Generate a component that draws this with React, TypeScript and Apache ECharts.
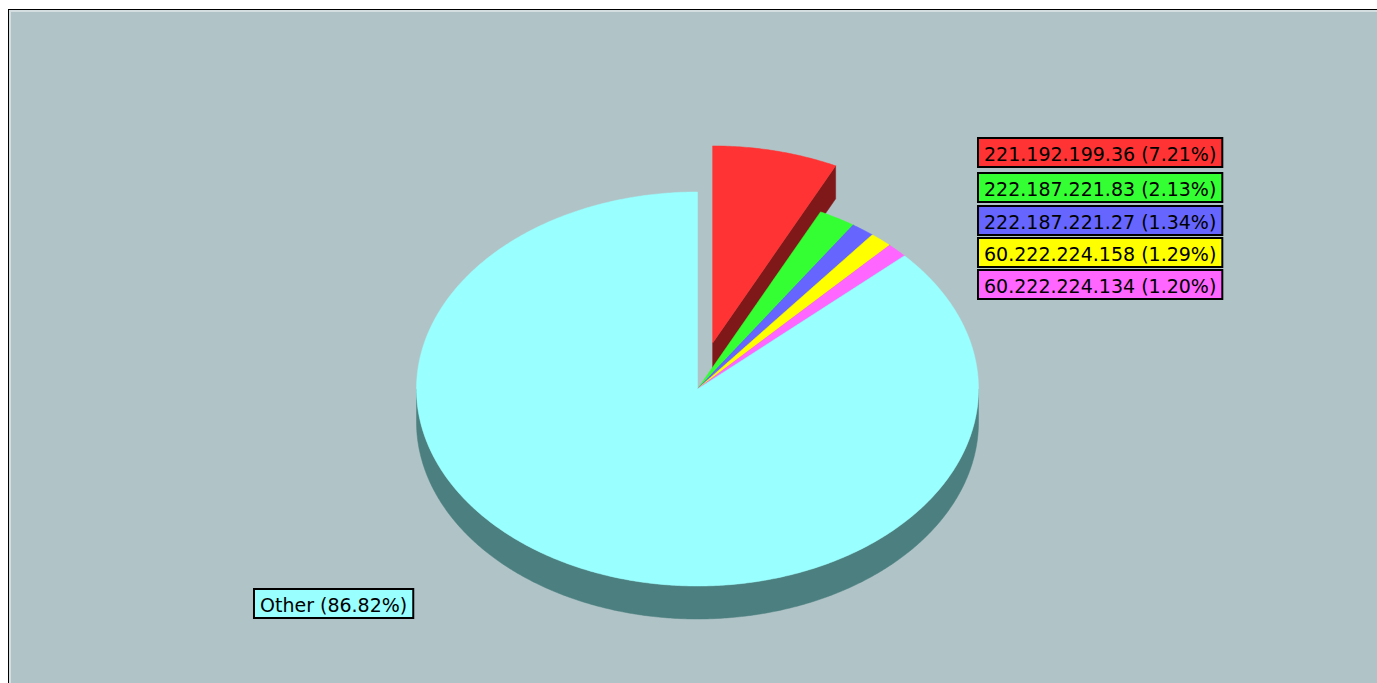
import React, { useEffect, useRef } from "react";
import * as echarts from "echarts";

// ---- data ----
const names = [
  "221.192.199.36",
  "222.187.221.83",
  "222.187.221.27",
  "60.222.224.158",
  "60.222.224.134",
  "Other",
];
const shares = [7.21, 2.13, 1.34, 1.29, 1.2, 86.82];
const colors = ["#FF3333", "#33FF33", "#6666FF", "#FFFF00", "#FF66FF", "#99FFFF"];
const sideColors = ["#7F1919", "#197F19", "#33337F", "#7F7F00", "#7F337F", "#4C7F7F"];
const explode = [0.24, 0, 0, 0, 0, 0];

// ---- layout (chart-local pixels) ----
const CX = 689.5;
const CY = 380;
const RX = 281;
const RY = 197;
const DEPTH = 33;
const labelPos: number[][] = [
  [969, 128],
  [969, 163],
  [969, 196],
  [969, 228],
  [969, 260],
  [245, 579],
];
const LABEL_H = 29;
const PAD = 6;
const FONT = '19px "DejaVu Sans"';

function measure(t: string): number {
  const c = document.createElement("canvas");
  const ctx = c.getContext("2d")!;
  ctx.font = FONT;
  return ctx.measureText(t).width;
}

function arc(a0: number, a1: number, ox: number, oy: number, dz: number): number[][] {
  const pts: number[][] = [];
  const n = Math.max(2, Math.ceil((a1 - a0) / 0.5));
  for (let k = 0; k <= n; k++) {
    const t = ((a0 + ((a1 - a0) * k) / n) * Math.PI) / 180;
    pts.push([CX + ox + RX * Math.sin(t), CY + oy - RY * Math.cos(t) + dz]);
  }
  return pts;
}

export default function App() {
  const ref = useRef<HTMLDivElement>(null);
  useEffect(() => {
    if (!ref.current) return;
    const chart = echarts.init(ref.current, undefined, { renderer: "svg" });
    const total = shares.reduce((s, v) => s + v, 0);
    const labels = names.map((n, i) => `${n} (${shares[i].toFixed(2)}%)`);
    const widths = labels.map((l) => measure(l));
    const maxRight = Math.max(...widths.slice(0, 5));

    const renderItem = (params: any, api: any) => {
      const i = params.dataIndex;
      let before = 0;
      for (let k = 0; k < i; k++) before += shares[k];
      const v = api.value(0);
      const a = (before / total) * 360;
      const b = ((before + v) / total) * 360;
      const mid = (((a + b) / 2) * Math.PI) / 180;
      const ox = explode[i] * RX * Math.sin(mid);
      const oy = -explode[i] * RY * Math.cos(mid);
      const c0 = [CX + ox, CY + oy];
      const c1 = [CX + ox, CY + oy + DEPTH];
      const children: any[] = [];
      const side = sideColors[i];
      // outer wall (front half)
      const lo = Math.max(a, 90);
      const hi = Math.min(b, 270);
      if (lo < hi) {
        const top = arc(lo, hi, ox, oy, 0);
        const bot = arc(lo, hi, ox, oy, DEPTH).reverse();
        children.push({
          type: "polygon",
          z2: 2,
          shape: { points: top.concat(bot) },
          style: { fill: side, stroke: side, lineWidth: 0.5 },
        });
      }
      const sa = Math.sin((a * Math.PI) / 180);
      const sb = Math.sin((b * Math.PI) / 180);
      if (sa < -1e-6) {
        const e0 = arc(a, a, ox, oy, 0)[0];
        const e1 = arc(a, a, ox, oy, DEPTH)[0];
        children.push({
          type: "polygon",
          z2: 3,
          shape: { points: [c0, e0, e1, c1] },
          style: { fill: side, stroke: side, lineWidth: 0.5 },
        });
      }
      if (sb > 1e-6) {
        const e0 = arc(b, b, ox, oy, 0)[0];
        const e1 = arc(b, b, ox, oy, DEPTH)[0];
        children.push({
          type: "polygon",
          z2: 3,
          shape: { points: [c0, e0, e1, c1] },
          style: { fill: side, stroke: side, lineWidth: 0.5 },
        });
      }
      // top face
      children.push({
        type: "polygon",
        z2: 10,
        shape: { points: [c0].concat(arc(a, b, ox, oy, 0)) },
        style: { fill: colors[i], stroke: colors[i], lineWidth: 0.5 },
      });
      // label box
      const [lx, ly] = labelPos[i];
      const w = (i < 5 ? maxRight : widths[i]) + PAD * 2;
      children.push({
        type: "rect",
        z2: 20,
        shape: { x: lx + 1, y: ly + 1, width: w, height: LABEL_H },
        style: { fill: colors[i], stroke: "#000", lineWidth: 2 },
      });
      children.push({
        type: "text",
        z2: 21,
        style: {
          text: labels[i],
          x: lx + 1 + PAD,
          y: ly + 1 + LABEL_H / 2 + 1,
          font: FONT,
          fill: "#000",
          align: "left",
          verticalAlign: "middle",
        },
      });
      return { type: "group", children };
    };

    chart.setOption({
      animation: false,
      backgroundColor: "#B0C4C8",
      graphic: [
        { type: "line", shape: { x1: 0.5, y1: 0, x2: 0.5, y2: 700 }, style: { stroke: "#000", lineWidth: 1 } },
        { type: "line", shape: { x1: 0, y1: 0.5, x2: 1400, y2: 0.5 }, style: { stroke: "#000", lineWidth: 1 } },
        { type: "line", shape: { x1: 2, y1: 1, x2: 2, y2: 700 }, style: { stroke: "#D4DEE0", lineWidth: 2 } },
        { type: "line", shape: { x1: 1, y1: 2, x2: 1400, y2: 2 }, style: { stroke: "#D4DEE0", lineWidth: 2 } },
      ],
      series: [
        {
          type: "custom",
          coordinateSystem: "none",
          silent: true,
          renderItem,
          data: shares.map((v) => [v]),
        },
      ],
    });
    return () => chart.dispose();
  }, []);
  return (
    <div
      ref={ref}
      style={{ position: "fixed", left: 8, top: 9, width: 1369, height: 674, overflow: "hidden" }}
    />
  );
}
